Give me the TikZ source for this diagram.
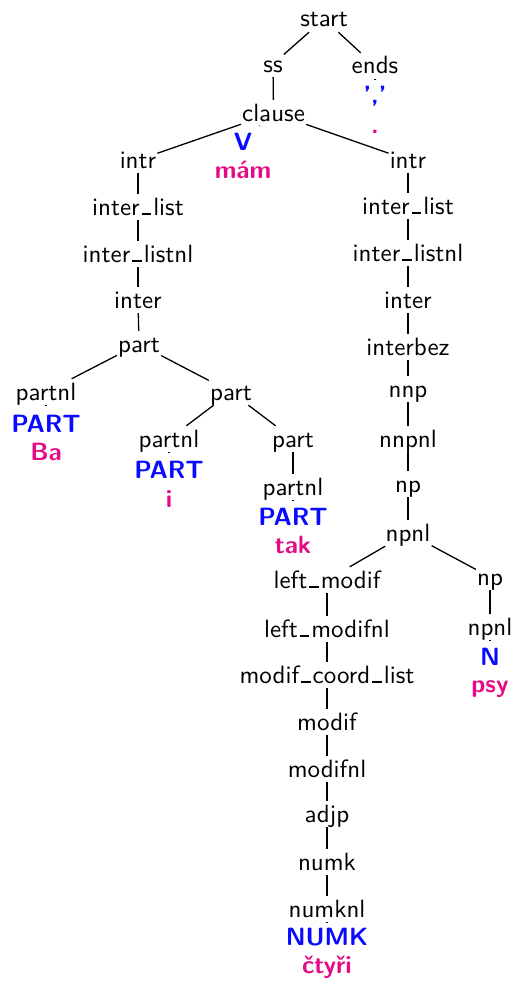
\documentclass[tikz,border=0pt]{standalone}
\usepackage{xcolor}
\usepackage{graphicx}
\definecolor{tokblue}{RGB}{10,10,255}
\definecolor{tokpink}{RGB}{230,10,135}
\newcommand\T[1]{\scalebox{2.5}{#1}}
\newcommand\us{\leavevmode\kern.08em\vbox{\hrule width.38em height .8pt}\kern.08em}
\begin{document}
\begin{tikzpicture}[x=1pt,y=-1pt,
  lab/.style={font=\sffamily\fontsize{10}{12}\selectfont, inner sep=1pt, text height=20pt, text depth=4pt, anchor=base},
  tokb/.style={font=\sffamily\bfseries\fontsize{10}{12}\selectfont, text=tokblue, inner sep=1pt, text height=20pt, text depth=4pt, anchor=base},
  tokp/.style={font=\sffamily\bfseries\fontsize{10}{12}\selectfont, text=tokpink, inner sep=1pt, text height=18pt, text depth=4pt, anchor=base},
  edge/.style={line width=1.3pt},
  leafc/.style={line width=1.3pt, shorten >=#1}]
\useasboundingbox (0,0) rectangle (514,982);
% top
\node[lab] (start) at (324,27) {\T{start}};
\node[lab] (ss) at (273,72) {\T{ss}};
\node[lab] (ends) at (375,74) {\T{ends}};
\node[tokb] (endsb) at (375,103) {\T{','}};
\node[tokp] (endsp) at (375,133) {\T{.}};
\node[lab] (clause) at (273.5,121) {\T{clause}};
\node[tokb] (V) at (243,150) {\T{V}};
\node[tokp] (mam) at (243,178) {\T{mám}};
% left branch
\node[lab] (intrL) at (138,168) {\T{intr}};
\node[lab] (ilL) at (138,215) {\T{inter\us list}};
\node[lab] (ilnL) at (138,262) {\T{inter\us listnl}};
\node[lab] (interL) at (138,308) {\T{inter}};
\node[lab] (partA) at (139,352) {\T{part}};
\node[lab] (partnlA) at (46,400) {\T{partnl}};
\node[tokb] (PARTA) at (46,432) {\T{PART}};
\node[tokp] (Ba) at (46,460) {\T{Ba}};
\node[lab] (partB) at (231,400) {\T{part}};
\node[lab] (partnlB) at (169,447) {\T{partnl}};
\node[tokb] (PARTB) at (169,478) {\T{PART}};
\node[tokp] (iw) at (169,507) {\T{i}};
\node[lab] (partC) at (293,447) {\T{part}};
\node[lab] (partnlC) at (293,495) {\T{partnl}};
\node[tokb] (PARTC) at (293,525) {\T{PART}};
\node[tokp] (tak) at (293,553) {\T{tak}};
% right branch
\node[lab] (intrR) at (408,168) {\T{intr}};
\node[lab] (ilR) at (408,214) {\T{inter\us list}};
\node[lab] (ilnR) at (408,261) {\T{inter\us listnl}};
\node[lab] (interR) at (408,308) {\T{inter}};
\node[lab] (interbez) at (408,355) {\T{interbez}};
\node[lab] (nnp) at (408,397) {\T{nnp}};
\node[lab] (nnpnl) at (408,447) {\T{nnpnl}};
\node[lab] (np) at (408,492) {\T{np}};
\node[lab] (npnl) at (408,541) {\T{npnl}};
\node[lab] (lm) at (327,588) {\T{left\us modif}};
\node[lab] (npR) at (490,585) {\T{np}};
\node[lab] (lmnl) at (327,637) {\T{left\us modifnl}};
\node[lab] (npnlR) at (490,635) {\T{npnl}};
\node[tokb] (N) at (490,665) {\T{N}};
\node[tokp] (psy) at (490,692) {\T{psy}};
\node[lab] (mcl) at (327,683) {\T{modif\us coord\us list}};
\node[lab] (modif) at (327,730) {\T{modif}};
\node[lab] (modifnl) at (327,777) {\T{modifnl}};
\node[lab] (adjp) at (327,822) {\T{adjp}};
\node[lab] (numk) at (327,870) {\T{numk}};
\node[lab] (numknl) at (327,917) {\T{numknl}};
\node[tokb] (NUMK) at (327,945) {\T{NUMK}};
\node[tokp] (ctyri) at (327,973) {\T{čtyři}};
% edges
\draw[edge] (start) -- (ss);
\draw[edge] (start) -- (ends);
\draw[leafc=1.5pt] (ends) -- (endsb);
\draw[edge] (ss) -- (clause);
\draw[leafc=9pt] (clause) -- (V);
\draw[edge] (clause) -- (intrL);
\draw[edge] (clause) -- (intrR);
\draw[edge] (intrL) -- (ilL);
\draw[edge] (ilL) -- (ilnL);
\draw[edge] (ilnL) -- (interL);
\draw[edge] (interL) -- (partA);
\draw[edge] (partA) -- (partnlA);
\draw[edge] (partA) -- (partB);
\draw[leafc=4.5pt] (partnlA) -- (PARTA);
\draw[edge] (partB) -- (partnlB);
\draw[edge] (partB) -- (partC);
\draw[leafc=3.5pt] (partnlB) -- (PARTB);
\draw[edge] (partC) -- (partnlC);
\draw[leafc=2.5pt] (partnlC) -- (PARTC);
\draw[edge] (intrR) -- (ilR);
\draw[edge] (ilR) -- (ilnR);
\draw[edge] (ilnR) -- (interR);
\draw[edge] (interR) -- (interbez);
\draw[edge] (interbez) -- (nnp);
\draw[edge] (nnp) -- (nnpnl);
\draw[edge] (nnpnl) -- (np);
\draw[edge] (np) -- (npnl);
\draw[edge] (npnl) -- (lm);
\draw[edge] (npnl) -- (npR);
\draw[edge] (npR) -- (npnlR);
\draw[leafc=2.5pt] (npnlR) -- (N);
\draw[edge] (lm) -- (lmnl);
\draw[edge] (lmnl) -- (mcl);
\draw[edge] (mcl) -- (modif);
\draw[edge] (modif) -- (modifnl);
\draw[edge] (modifnl) -- (adjp);
\draw[edge] (adjp) -- (numk);
\draw[edge] (numk) -- (numknl);
\draw[leafc=0.5pt] (numknl) -- (NUMK);
\end{tikzpicture}
\end{document}
